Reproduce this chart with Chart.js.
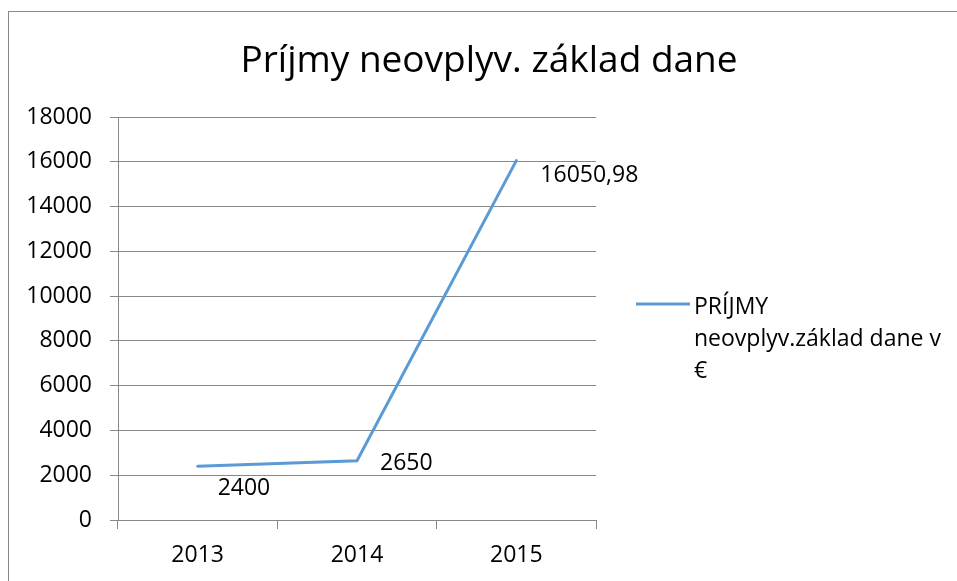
<!DOCTYPE html>
<html>
<head>
<meta charset="utf-8">
<script src="https://cdn.jsdelivr.net/npm/chart.js@4.4.1/dist/chart.umd.min.js"></script>
<style>
  html, body { margin: 0; padding: 0; background: #fff; overflow: hidden; }
  #page { position: relative; width: 957px; height: 581px; overflow: hidden; }
  #frame { position: absolute; left: 8px; top: 11px; width: 2000px; height: 2000px; border: 1.5px solid #888; }
  #chart { position: absolute; left: 0; top: 0; }
</style>
</head>
<body>
<div id="page">
  <div id="frame"></div>
  <canvas id="chart" width="957" height="581"></canvas>
</div>
<script>
  // data
  const years = ['2013', '2014', '2015'];
  const income = [2400, 2650, 16050.98];
  const seriesName = 'PRÍJMY neovplyv.základ dane v €';
  const legendLines = ['PRÍJMY', 'neovplyv.základ dane v', '€'];
  const chartTitle = 'Príjmy neovplyv. základ dane';
  const yMin = 0, yMax = 18000, yStep = 2000;

  const FONT = '"Open Sans"';
  const TXT = 23;
  const lineColor = '#5B9BD5';
  const gridColor = '#888888';

  // where each value label sits relative to its point (dx, dy of baseline)
  const labelOffsets = [[20, 29], [23, 9], [24, 21]];

  // title drawn by hand so it can centre over the whole frame
  const titlePlugin = {
    id: 'excelTitle',
    afterDraw(chart) {
      const ctx = chart.ctx;
      ctx.save();
      ctx.font = '37px ' + FONT;
      ctx.fillStyle = '#000';
      ctx.textAlign = 'center';
      ctx.textBaseline = 'alphabetic';
      ctx.fillText(chartTitle, 489, 72);
      ctx.restore();
    }
  };

  // value labels, comma as decimal separator
  const valueLabels = {
    id: 'valueLabels',
    afterDatasetsDraw(chart) {
      const ctx = chart.ctx;
      const meta = chart.getDatasetMeta(0);
      ctx.save();
      ctx.font = TXT + 'px ' + FONT;
      ctx.fillStyle = '#000';
      ctx.textAlign = 'left';
      ctx.textBaseline = 'alphabetic';
      meta.data.forEach((pt, i) => {
        const txt = String(chart.data.datasets[0].data[i]).replace('.', ',');
        ctx.fillText(txt, pt.x + labelOffsets[i][0], pt.y + labelOffsets[i][1]);
      });
      ctx.restore();
    }
  };

  // legend on the right, wrapped like the original
  const sideLegend = {
    id: 'sideLegend',
    afterDraw(chart) {
      const ctx = chart.ctx;
      const ds = chart.data.datasets[0];
      ctx.save();
      ctx.strokeStyle = ds.borderColor;
      ctx.lineWidth = 3;
      ctx.beginPath();
      ctx.moveTo(636, 304);
      ctx.lineTo(690, 304);
      ctx.stroke();
      ctx.font = TXT + 'px ' + FONT;
      ctx.fillStyle = '#000';
      ctx.textAlign = 'left';
      ctx.textBaseline = 'alphabetic';
      legendLines.forEach((ln, i) => {
        ctx.fillText(ln, 694, 314 + i * 32);
      });
      ctx.restore();
    }
  };

  const config = {
    type: 'line',
    data: {
      labels: years,
      datasets: [{
        label: seriesName,
        data: income,
        borderColor: lineColor,
        backgroundColor: lineColor,
        borderWidth: 3,
        borderCapStyle: 'round',
        pointRadius: 0,
        pointHoverRadius: 0,
        tension: 0,
        fill: false
      }]
    },
    options: {
      responsive: false,
      devicePixelRatio: 1,
      animation: false,
      layout: {
        padding: { left: 0, right: 361, top: 117, bottom: 0 }
      },
      plugins: {
        legend: { display: false },
        title: { display: false },
        tooltip: { enabled: false }
      },
      scales: {
        x: {
          offset: true,
          grid: {
            offset: true,
            drawOnChartArea: false,
            drawTicks: true,
            tickLength: 9,
            color: gridColor
          },
          border: { display: true, color: gridColor },
          ticks: {
            font: { family: FONT, size: TXT },
            color: '#000',
            padding: 13
          },
          afterFit(scale) { scale.height = 61; }
        },
        y: {
          min: yMin,
          max: yMax,
          grid: {
            color: gridColor,
            tickLength: 8,
            drawTicks: true
          },
          border: { display: true, color: gridColor },
          ticks: {
            stepSize: yStep,
            font: { family: FONT, size: TXT },
            color: '#000',
            padding: 18,
            callback: (v) => String(v)
          },
          afterFit(scale) { scale.width = 118; }
        }
      }
    },
    plugins: [titlePlugin, valueLabels, sideLegend]
  };

  const myChart = new Chart(document.getElementById('chart'), config);
</script>
</body>
</html>
